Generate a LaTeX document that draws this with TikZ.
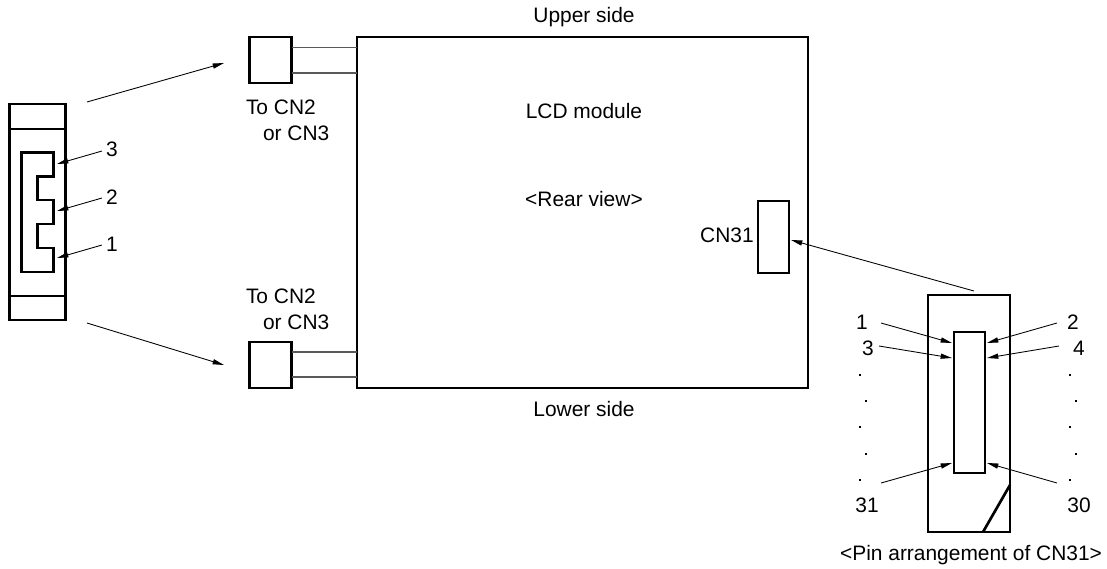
\documentclass[tikz,border=0pt]{standalone}
\usepackage{fontspec}
\setmainfont{Liberation Sans}
\usetikzlibrary{arrows.meta}
\newlength{\pxu}\setlength{\pxu}{0.75pt}
\tikzset{
  boxn/.style={draw=black,line width=2pt,fill=none,inner sep=0pt,outer sep=0pt,minimum width=#1},
  heavy/.style={draw=black,line width=2pt,line join=miter},
  stub/.style={draw=black!65,line width=0.8pt},
  arw/.style={draw=black,line width=0.65pt,-{Triangle[length=8.5pt,width=3.8pt]},shorten >=0pt},
  lab/.style={inner sep=0pt,outer sep=0pt,font=\fontsize{15.7}{18}\selectfont,text=black},
  ldot/.style={inner sep=0pt,outer sep=0pt,minimum size=2.2pt,fill=black,shape=rectangle}
}
\begin{document}
\begin{tikzpicture}[x=0.75pt,y=-0.75pt]
\useasboundingbox (0,0) rectangle (1107,568);
% main module
\node[boxn=451\pxu,minimum height=351\pxu] (lcd) at (582.5,212.5) {};
\node[boxn=42\pxu,minimum height=46\pxu] (sqtop) at (270.5,60) {};
\node[boxn=42\pxu,minimum height=46\pxu] (sqbot) at (270.5,365) {};
\coordinate (sqtopA) at (291.5,47.5); \coordinate (lcdtopA) at (357,47.5);
\coordinate (sqtopB) at (291.5,73);   \coordinate (lcdtopB) at (357,73);
\coordinate (sqbotA) at (291.5,352);  \coordinate (lcdbotA) at (357,352);
\coordinate (sqbotB) at (291.5,377);  \coordinate (lcdbotB) at (357,377);
\draw[stub] (sqtopA) -- (lcdtopA);
\draw[stub] (sqtopB) -- (lcdtopB);
\draw[stub] (sqbotA) -- (lcdbotA);
\draw[stub] (sqbotB) -- (lcdbotB);
\node[boxn=31\pxu,minimum height=72\pxu] (cn) at (773.5,237) {};
% left connector
\node[boxn=56\pxu,minimum height=216\pxu] (plug) at (37.5,212) {};
\coordinate (plugTL) at (9.5,129); \coordinate (plugTR) at (65.5,129);
\coordinate (plugBL) at (9.5,296); \coordinate (plugBR) at (65.5,296);
\draw[heavy] (plugTL) -- (plugTR);
\draw[heavy] (plugBL) -- (plugBR);
\draw[heavy] (21.5,152.5) -- (53.5,152.5) -- (53.5,176.5) -- (37.5,176.5) -- (37.5,200) -- (53.5,200) -- (53.5,224) -- (37.5,224) -- (37.5,248) -- (53.5,248) -- (53.5,272) -- (21.5,272) -- cycle;
\node[lab] (l3) at (112,149) {3};
\node[lab] (l2) at (112,197) {2};
\node[lab] (l1) at (112,244) {1};
\coordinate (a3s) at (102,151); \coordinate (a3e) at (57,164);
\coordinate (a2s) at (102,198); \coordinate (a2e) at (57,211);
\coordinate (a1s) at (102,245); \coordinate (a1e) at (57,258);
\draw[arw] (a3s) -- (a3e);
\draw[arw] (a2s) -- (a2e);
\draw[arw] (a1s) -- (a1e);
% big arrows
\coordinate (b1s) at (87,102); \coordinate (b1e) at (224,63);
\coordinate (b2s) at (87,323); \coordinate (b2e) at (224,365);
\draw[arw] (b1s) -- (b1e);
\draw[arw] (b2s) -- (b2e);
% right pin box
\node[boxn=82\pxu,minimum height=237\pxu] (pin) at (969,413.5) {};
\node[boxn=31\pxu,minimum height=141\pxu] (pinin) at (969.5,402.5) {};
\coordinate (dgA) at (983,532); \coordinate (dgB) at (1010,485);
\draw[heavy] (dgA) -- (dgB);
\coordinate (cs) at (974,291); \coordinate (ce) at (791,240);
\draw[arw] (cs) -- (ce);
\coordinate (p1s) at (881,323);  \coordinate (p1e) at (952,343);
\coordinate (p3s) at (879,346);  \coordinate (p3e) at (952,358);
\coordinate (p31s) at (881,483); \coordinate (p31e) at (952,463);
\coordinate (p2s) at (1057,323); \coordinate (p2e) at (987,343);
\coordinate (p4s) at (1059,346); \coordinate (p4e) at (987,358);
\coordinate (p30s) at (1057,483);\coordinate (p30e) at (987,463);
\draw[arw] (p1s) -- (p1e);
\draw[arw] (p3s) -- (p3e);
\draw[arw] (p31s) -- (p31e);
\draw[arw] (p2s) -- (p2e);
\draw[arw] (p4s) -- (p4e);
\draw[arw] (p30s) -- (p30e);
\node[lab] (t1) at (862,322) {1};
\node[lab] (t3) at (868,348) {3};
\node[lab] (t31) at (867,505) {31};
\node[lab] (t2) at (1073,322) {2};
\node[lab] (t4) at (1079,348) {4};
\node[lab] (t30) at (1079,505) {30};
\node[ldot] (dl1) at (860,375) {};
\node[ldot] (dl2) at (866,401) {};
\node[ldot] (dl3) at (860,427) {};
\node[ldot] (dl4) at (866,454) {};
\node[ldot] (dl5) at (860,480) {};
\node[ldot] (dr1) at (1070,375) {};
\node[ldot] (dr2) at (1076,401) {};
\node[ldot] (dr3) at (1070,427) {};
\node[ldot] (dr4) at (1076,454) {};
\node[ldot] (dr5) at (1070,480) {};
% texts
\node[lab] (up) at (584,17) {Upper side};
\node[lab] (lo) at (584,409) {Lower side};
\node[lab] (mod) at (584,111) {LCD module};
\node[lab] (rear) at (584,199) {<Rear view>};
\node[lab] (cnl) at (727,235) {CN31};
\node[lab,anchor=west] (tc1) at (246,107) {To CN2};
\node[lab,anchor=west] (tc2) at (263,133) {or CN3};
\node[lab,anchor=west] (tc3) at (246,296) {To CN2};
\node[lab,anchor=west] (tc4) at (263,322) {or CN3};
\node[lab] (cap) at (971,555) {<Pin arrangement of CN31>};
\end{tikzpicture}
\end{document}
